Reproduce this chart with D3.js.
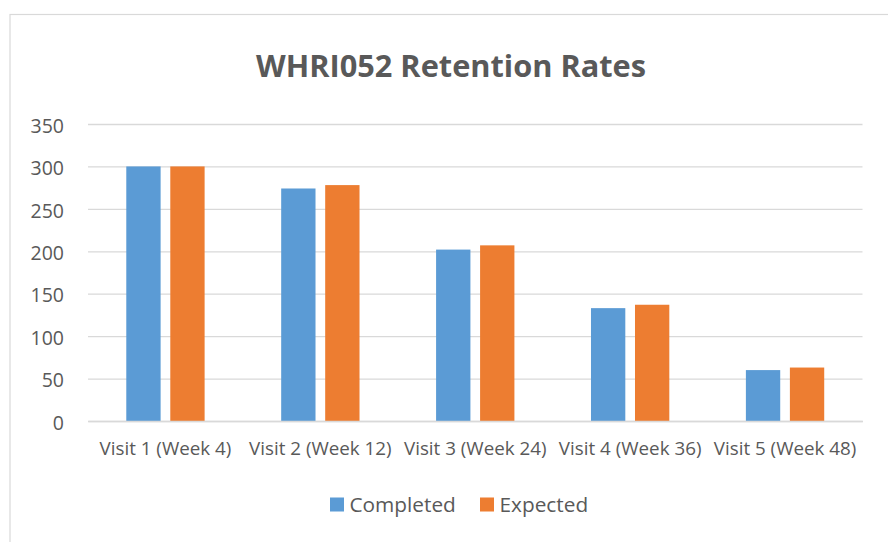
<!DOCTYPE html>
<html>
<head>
<meta charset="utf-8">
<script src="https://cdn.jsdelivr.net/npm/d3@7"></script>
<style>
  html, body { margin: 0; padding: 0; background: #fff; }
  svg { display: block; }
  text { font-family: "Open Sans", "Liberation Sans", sans-serif; fill: #595959; }
</style>
</head>
<body>
<div id="chart"></div>
<script>
const title = "WHRI052 Retention Rates";
const categories = ["Visit 1 (Week 4)", "Visit 2 (Week 12)", "Visit 3 (Week 24)", "Visit 4 (Week 36)", "Visit 5 (Week 48)"];
const seriesNames = ["Completed", "Expected"];
const completed = [300, 274, 202, 133, 60];
const expected = [300, 278, 207, 137, 63];
const yTicks = [0, 50, 100, 150, 200, 250, 300, 350];
const colors = ["#5b9bd5", "#ed7d31"];

const W = 888, H = 542;
const margin = { left: 88, right: 25.5, top: 124, bottom: 121 };

const svg = d3.select("#chart").append("svg").attr("width", W).attr("height", H);

// chart border (extends beyond the visible area on the right and bottom)
svg.append("rect")
  .attr("x", 10).attr("y", 14.5).attr("width", 900).attr("height", 560)
  .attr("fill", "none").attr("stroke", "#d9d9d9").attr("stroke-width", 1.2);

svg.append("text")
  .attr("x", 451).attr("y", 77)
  .attr("text-anchor", "middle")
  .attr("font-size", 31).attr("font-weight", "bold")
  .attr("textLength", 390).attr("lengthAdjust", "spacingAndGlyphs")
  .text(title);

const x = d3.scaleBand().domain(categories).range([margin.left, W - margin.right]);
const y = d3.scaleLinear().domain([0, 350]).range([H - margin.bottom, margin.top]);

const inner = d3.scaleBand().domain(seriesNames).range([0, x.bandwidth()]).paddingInner(0.22).paddingOuter(0.87);

// gridlines
const gridAxis = d3.axisLeft(y).tickValues(yTicks).tickSize(-(W - margin.right - margin.left)).tickFormat("");
const g = svg.append("g").attr("transform", `translate(${margin.left},0)`).call(gridAxis);
g.select(".domain").remove();
g.selectAll(".tick line").attr("stroke", "#d9d9d9").attr("stroke-width", 1.3);

// y tick labels
const yAx = svg.append("g").attr("transform", `translate(${margin.left},0)`)
  .call(d3.axisLeft(y).tickValues(yTicks).tickSize(0).tickPadding(24));
yAx.select(".domain").remove();
yAx.selectAll("text").attr("font-size", 19.5).attr("fill", "#595959")
  .attr("font-family", "'Open Sans', sans-serif").attr("dy", "0.42em");

// bars
const data = categories.map((c, i) => ({ cat: c, vals: [completed[i], expected[i]] }));
const groups = svg.append("g").selectAll("g").data(data).join("g")
  .attr("transform", d => `translate(${x(d.cat)},0)`);
groups.selectAll("rect").data(d => d.vals.map((v, j) => ({ name: seriesNames[j], v, j })))
  .join("rect")
  .attr("x", d => inner(d.name))
  .attr("width", inner.bandwidth())
  .attr("y", d => y(d.v))
  .attr("height", d => y(0) - y(d.v))
  .attr("fill", d => colors[d.j]);

// x axis line and labels
const xAx = svg.append("g").attr("transform", `translate(0,${y(0)})`)
  .call(d3.axisBottom(x).tickSize(0).tickPadding(21));
xAx.select(".domain").attr("stroke", "#d9d9d9").attr("stroke-width", 1.3);
xAx.selectAll("text").attr("font-size", 18.8).attr("fill", "#595959")
  .attr("font-family", "'Open Sans', sans-serif");

// legend
const legendItems = [{ name: seriesNames[0], x: 330, c: colors[0] }, { name: seriesNames[1], x: 480, c: colors[1] }];
const lg = svg.append("g").selectAll("g").data(legendItems).join("g")
  .attr("transform", d => `translate(${d.x},497.5)`);
lg.append("rect").attr("width", 14).attr("height", 14).attr("fill", d => d.c);
lg.append("text").attr("x", 19.5).attr("y", 14).attr("font-size", 20.8).text(d => d.name);
</script>
</body>
</html>
